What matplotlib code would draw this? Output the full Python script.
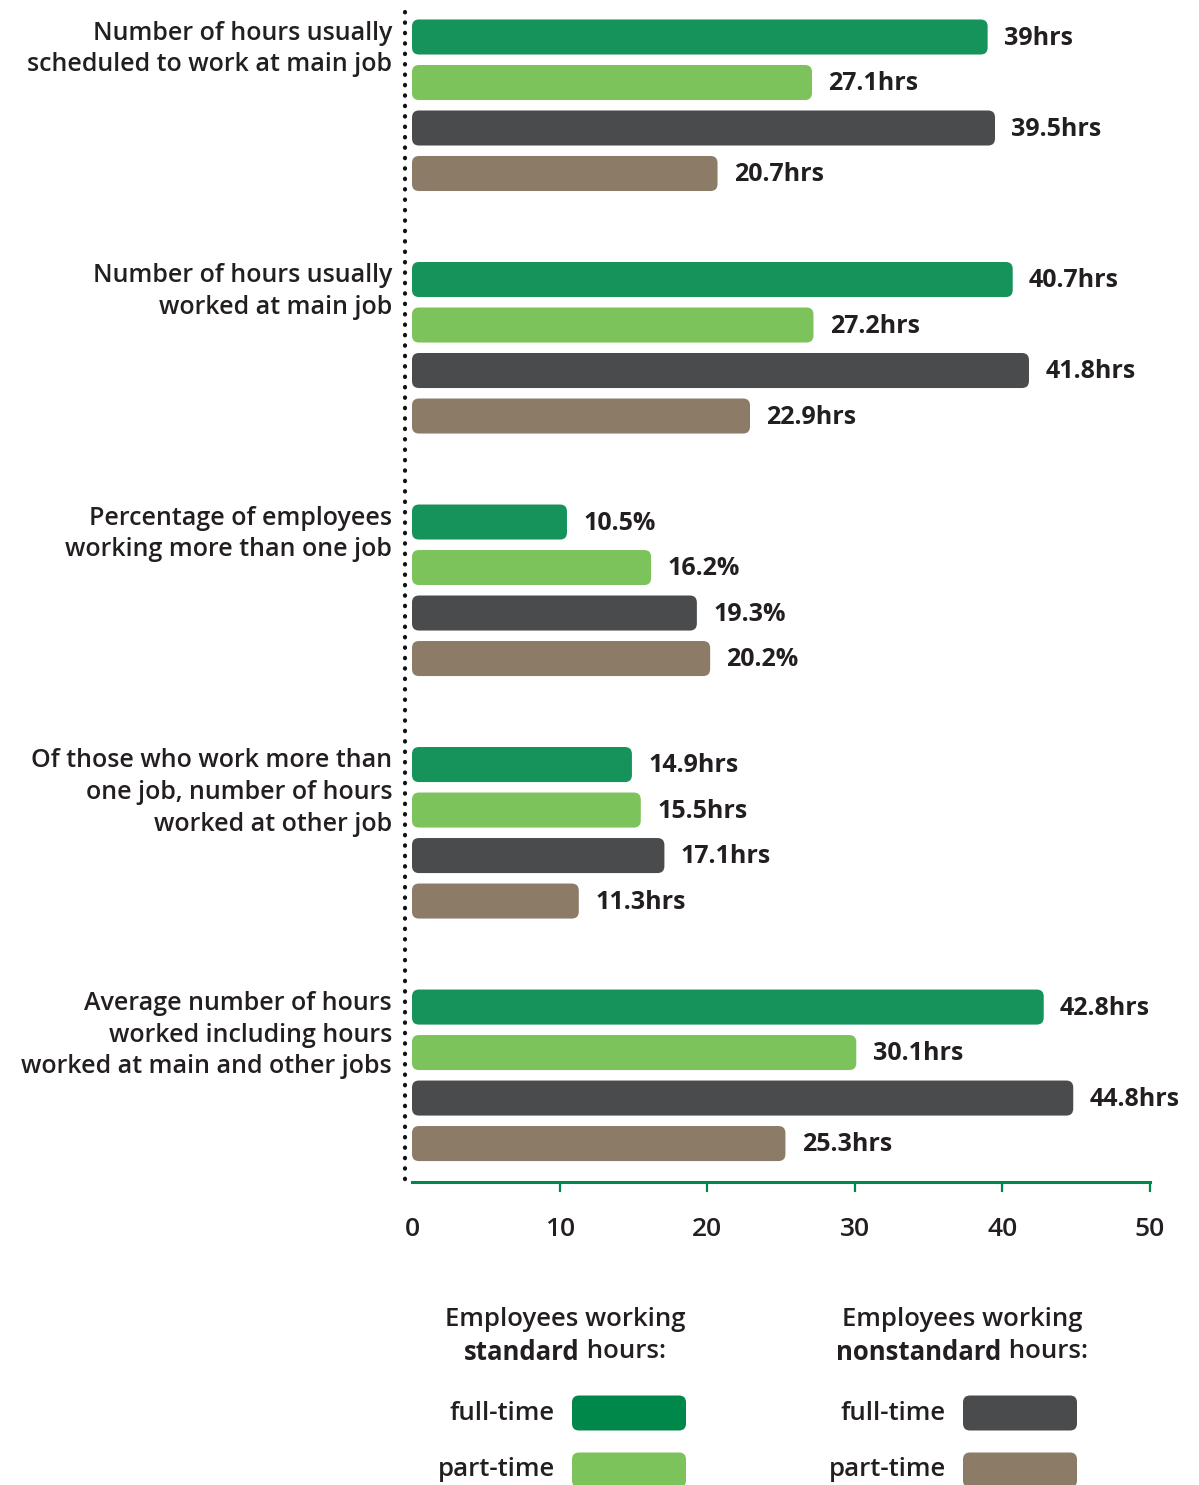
import matplotlib
matplotlib.use("Agg")
import matplotlib.pyplot as plt
from matplotlib.patches import FancyBboxPatch

plt.rcParams['font.family'] = ['Open Sans', 'DejaVu Sans']

# ---- data ----
categories = [
    "Number of hours usually\nscheduled to work at main job",
    "Number of hours usually\nworked at main job",
    "Percentage of employees\nworking more than one job",
    "Of those who work more than\none job, number of hours\nworked at other job",
    "Average number of hours\nworked including hours\nworked at main and other jobs",
]
units = ["hrs", "hrs", "%", "hrs", "hrs"]
std_full = [39, 40.7, 10.5, 14.9, 42.8]
std_part = [27.1, 27.2, 16.2, 15.5, 30.1]
non_full = [39.5, 41.8, 19.3, 17.1, 44.8]
non_part = [20.7, 22.9, 20.2, 11.3, 25.3]
series = [std_full, std_part, non_full, non_part]
series_names = ["standard full-time", "standard part-time",
                "nonstandard full-time", "nonstandard part-time"]
colors = ["#16925B", "#7DC35B", "#4A4B4D", "#8C7B67"]
legend_colors = ["#00884A", "#7DC35B", "#4A4B4D", "#8C7B67"]
xticks = [0, 10, 20, 30, 40, 50]

TXT = "#231F20"
W, H = 1199, 1485
fig = plt.figure(figsize=(W / 100, H / 100), dpi=100)

# overlay axes in pixel coordinates (for legend and dotted line)
ov = fig.add_axes([0, 0, 1, 1], zorder=0)
ov.set_xlim(0, W)
ov.set_ylim(H, 0)
ov.axis("off")
ov.patch.set_alpha(0)

# main axes
top_px, bot_px, left_px, right_px = 10, 1182, 412, 1150
ax = fig.add_axes([left_px / W, 1 - bot_px / H, (right_px - left_px) / W,
                   (bot_px - top_px) / H], zorder=1)
ax.patch.set_alpha(0)
slot = 45.5
gstep = 5.33
first_c = 37
ax.set_xlim(0, 50)
ax.set_ylim((bot_px - first_c) / slot, -(first_c - top_px) / slot)

bar_h = 0.77
rx = 0.47
asp = (7 / slot) / rx
for si, vals in enumerate(series):
    ys = [g * gstep + si for g in range(len(vals))]
    bars = ax.barh(ys, vals, height=bar_h, color=colors[si], alpha=0)
    for b, v, g in zip(bars, vals, range(len(vals))):
        x0, y0 = b.get_x(), b.get_y()
        w, h = b.get_width(), b.get_height()
        p = FancyBboxPatch((x0, y0), w, h,
                           boxstyle=f"round,pad=0,rounding_size={rx}",
                           mutation_aspect=asp, fc=colors[si], ec="none")
        ax.add_patch(p)
        ax.text(v + 1.1, y0 + h / 2 + 0.03, f"{v:g}{units[g]}", ha="left",
                va="center", fontsize=18, fontweight="bold", color=TXT)

for g, cat in enumerate(categories):
    ax.text(-1.35, g * gstep - 0.36, cat, ha="right", va="top", fontsize=18,
            fontweight=600, color=TXT, linespacing=1.36)

for s in ["top", "right", "left"]:
    ax.spines[s].set_visible(False)
ax.spines["bottom"].set_color("#00884A")
ax.spines["bottom"].set_linewidth(2.2)
ax.set_yticks([])
ax.set_xticks(xticks)
ax.set_xticklabels([str(t) for t in xticks], fontsize=19, fontweight=600,
                   color=TXT)
ax.tick_params(axis="x", colors="#00884A", length=7, width=1.6,
               pad=18, labelcolor=TXT)
ax.xaxis.get_major_ticks()[0].tick1line.set_visible(False)

# dotted vertical line
ov.plot([405, 405], [12, 1180], color="#111111", lw=3,
        linestyle=(0, (0.1, 2.4)), dash_capstyle="round")

# ---- legend ----
fig.canvas.draw()
r = fig.canvas.get_renderer()
LFS = 18.5


def centered_mixed(cx, y, bold_part, rest):
    t1 = ov.text(0, y, bold_part, fontsize=LFS, fontweight="bold", color=TXT,
                 ha="left", va="center")
    t2 = ov.text(0, y, rest, fontsize=LFS, fontweight=600, color=TXT,
                 ha="left", va="center")
    w1 = t1.get_window_extent(r).width
    w2 = t2.get_window_extent(r).width
    x0 = cx - (w1 + w2) / 2
    t1.set_x(x0)
    t2.set_x(x0 + w1)


for cx, word in [(565, "standard"), (962, "nonstandard")]:
    ov.text(cx, 1320, "Employees working", fontsize=LFS, fontweight=600,
            color=TXT, ha="center", va="center")
    centered_mixed(cx, 1352, word, " hours:")

legend_items = [(555, 572, 1413, "full-time", legend_colors[0]),
                (555, 572, 1470, "part-time", legend_colors[1]),
                (946, 963, 1413, "full-time", legend_colors[2]),
                (946, 963, 1470, "part-time", legend_colors[3])]
for tx, sx, y, lab, c in legend_items:
    ov.text(tx, y, lab, fontsize=LFS, fontweight=600, color=TXT, ha="right",
            va="center")
    ov.add_patch(FancyBboxPatch((sx, y - 17.5), 114, 35,
                                boxstyle="round,pad=0,rounding_size=7",
                                fc=c, ec="none"))

fig.savefig("out.png", dpi=100)
